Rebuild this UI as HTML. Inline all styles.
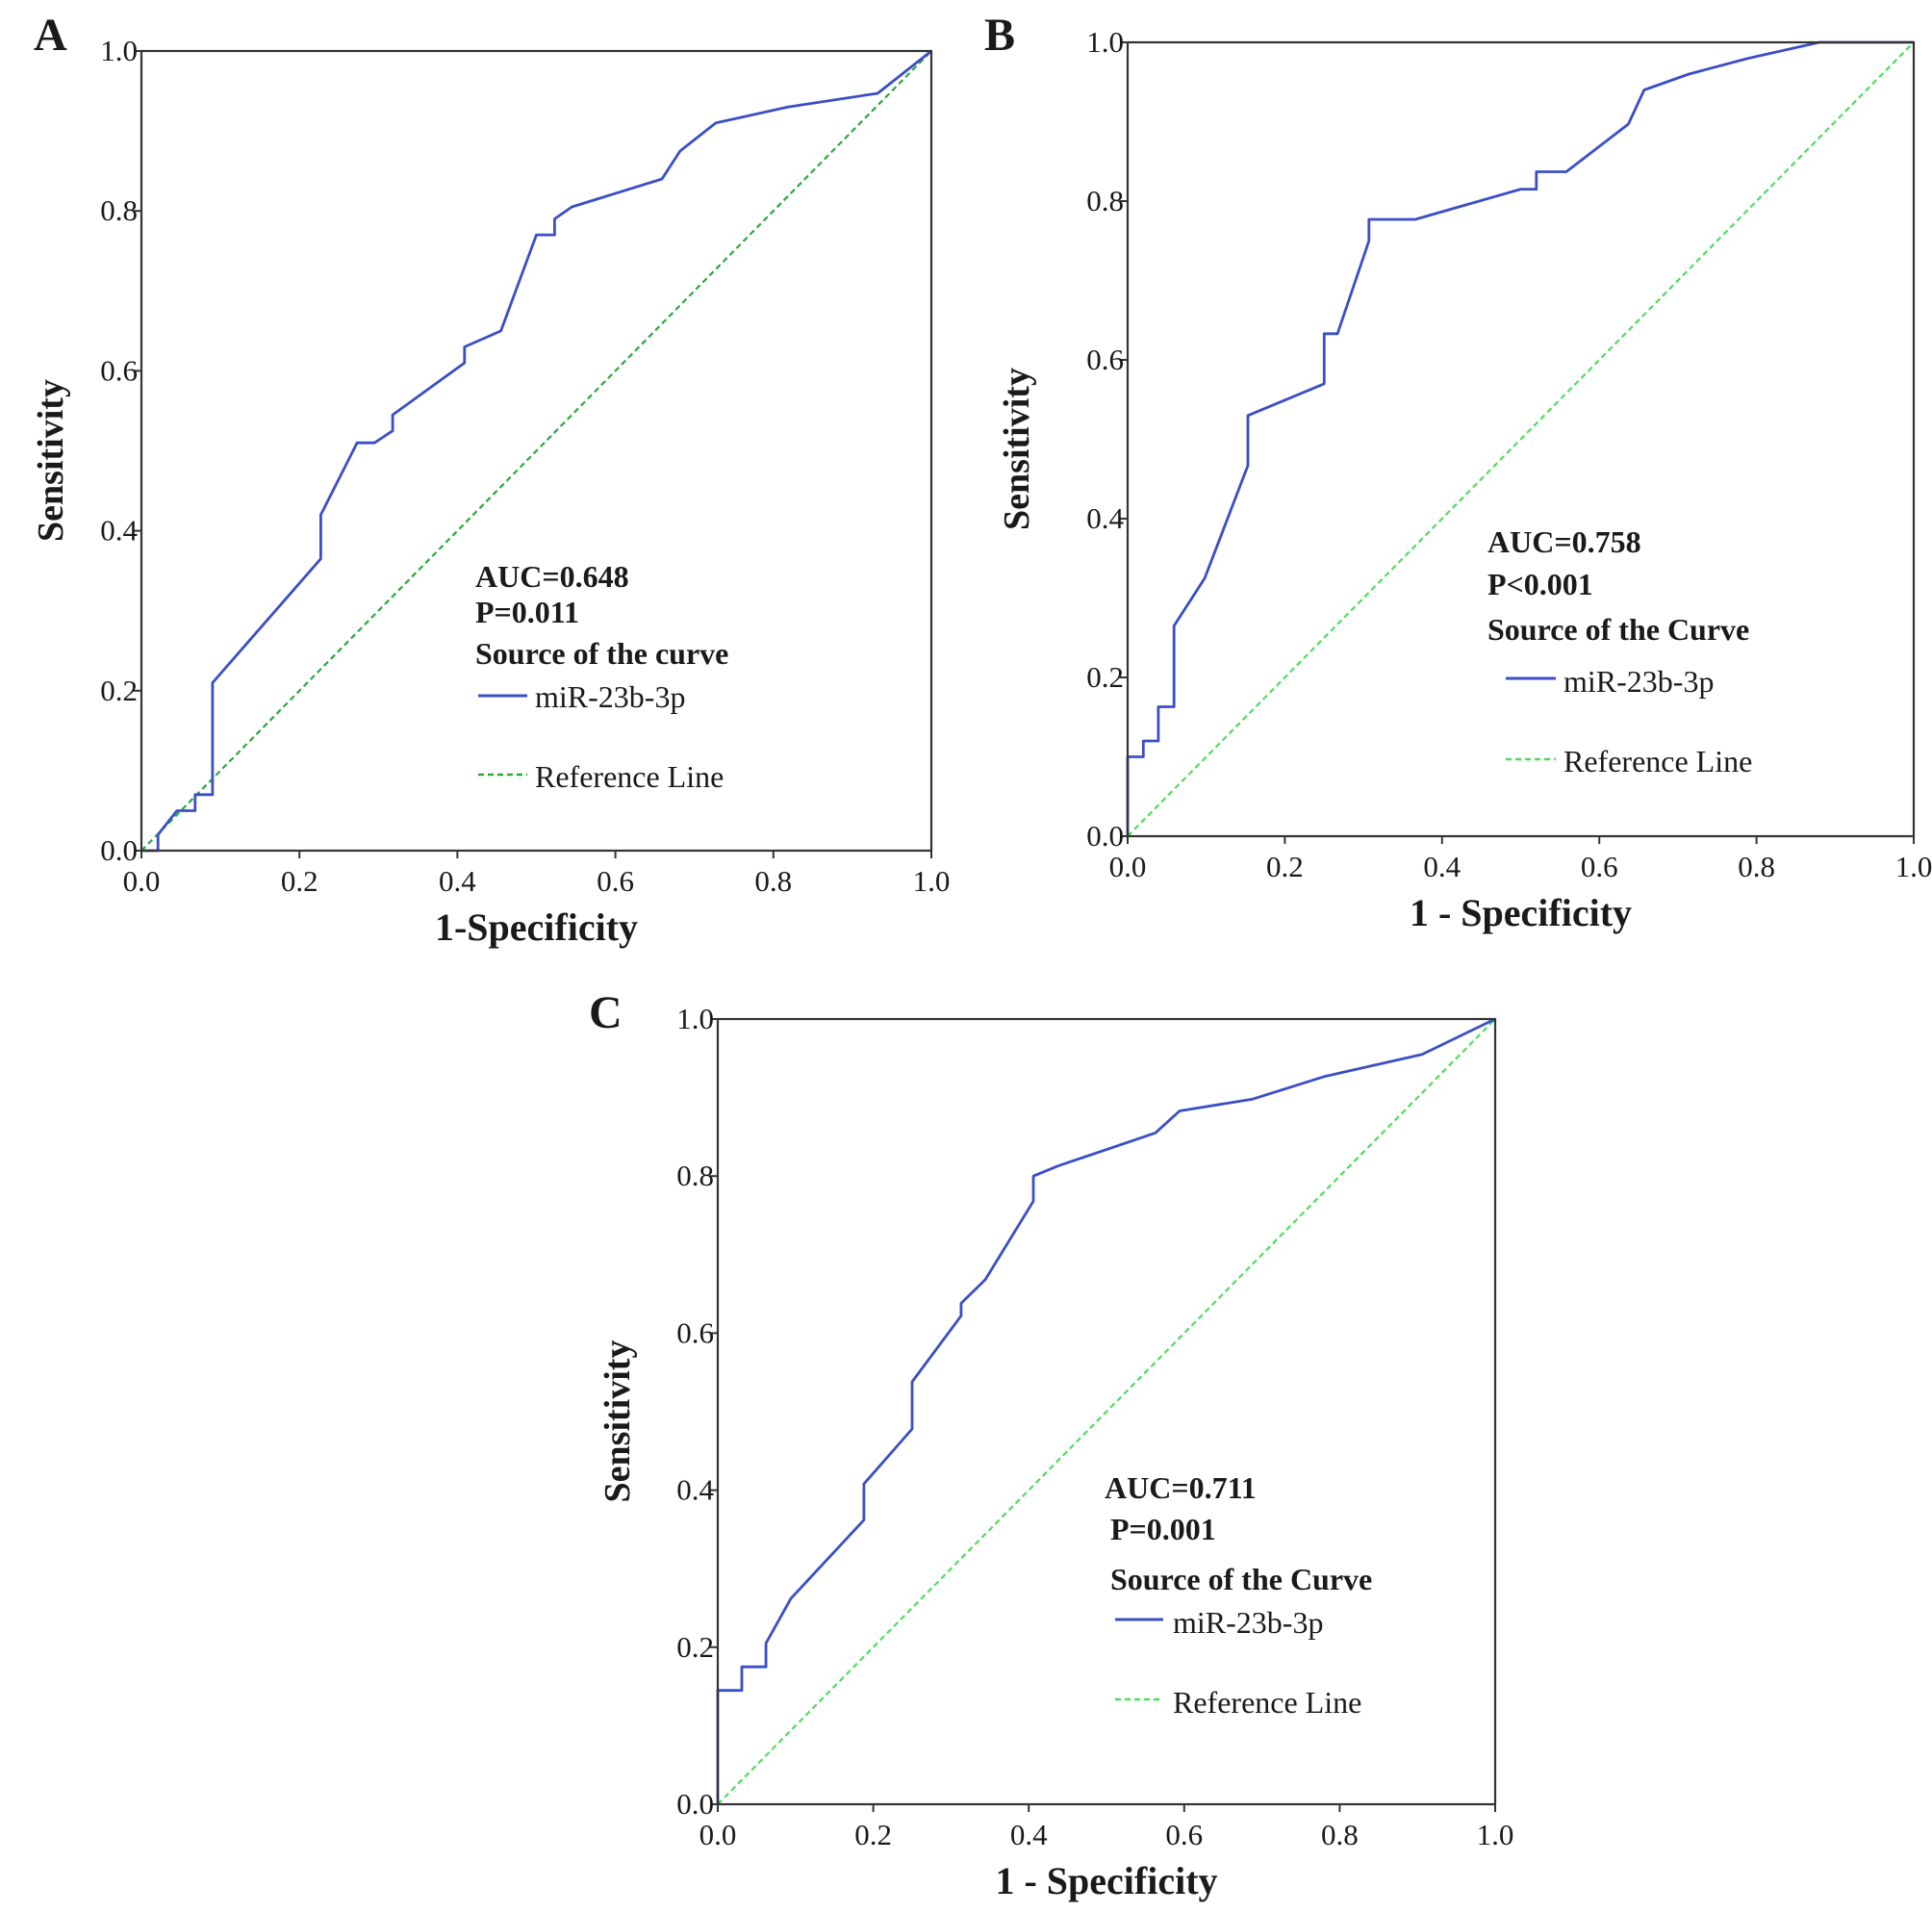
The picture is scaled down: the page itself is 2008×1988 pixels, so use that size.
<!DOCTYPE html>
<html><head><meta charset="utf-8"><style>
body{margin:0;background:#fff}
svg{display:block}
text{font-family:"Liberation Serif",serif;fill:#1a1a1a}
</style></head><body>
<svg id="fig" width="2008" height="1988" viewBox="0 0 2008 1988" xmlns="http://www.w3.org/2000/svg"></svg>
<script>
const ticks = [0, 0.2, 0.4, 0.6, 0.8, 1.0];
const tickLabels = ["0.0","0.2","0.4","0.6","0.8","1.0"];
const fprA = [0,0.021,0.021,0.045,0.068,0.068,0.09,0.09,0.227,0.227,0.273,0.295,0.318,0.318,0.409,0.409,0.455,0.5,0.523,0.523,0.545,0.659,0.682,0.727,0.818,0.932,1];
const tprA = [0,0,0.02,0.05,0.05,0.07,0.07,0.21,0.365,0.42,0.51,0.51,0.525,0.545,0.61,0.63,0.65,0.77,0.77,0.79,0.805,0.84,0.875,0.91,0.93,0.947,1];
const fprB = [0,0,0.02,0.02,0.039,0.039,0.059,0.059,0.098,0.153,0.153,0.25,0.25,0.267,0.307,0.307,0.366,0.5,0.52,0.52,0.558,0.637,0.657,0.714,0.79,0.88,1];
const tprB = [0,0.1,0.1,0.12,0.12,0.163,0.163,0.265,0.325,0.467,0.53,0.57,0.633,0.633,0.75,0.777,0.777,0.815,0.815,0.837,0.837,0.897,0.94,0.96,0.98,1,1];
const fprC = [0,0,0.031,0.031,0.062,0.062,0.094,0.188,0.188,0.25,0.25,0.313,0.313,0.344,0.406,0.406,0.438,0.563,0.594,0.688,0.781,0.906,1];
const tprC = [0,0.145,0.145,0.175,0.175,0.205,0.262,0.362,0.408,0.478,0.538,0.622,0.638,0.668,0.768,0.8,0.813,0.855,0.883,0.898,0.927,0.955,1];

const NS = "http://www.w3.org/2000/svg";
const svg = document.getElementById("fig");
function mk(tag, attrs, parent, txt){
  const e = document.createElementNS(NS, tag);
  for (const k in attrs) e.setAttribute(k, attrs[k]);
  if (txt !== undefined) e.textContent = txt;
  (parent || svg).appendChild(e);
  return e;
}

const panels = [
 {id:"a", letter:"A", L:147, R:968, T:53, B:884, fpr:fprA, tpr:tprA, green:"#2aa83c", xt:"1-Specificity",
  lx:35, ly:52, ytx:52,
  leg:{x:494, auc:"AUC=0.648", aucY:610, p:"P=0.011", px:494, pY:647, src:"Source of the curve", srcY:690, lx1:497, lx2:548, ly1:723, tx:556, t1:735, ly2:805, t2:818}},
 {id:"b", letter:"B", L:1172, R:1989, T:44, B:869, fpr:fprB, tpr:tprB, green:"#4fdc5c", xt:"1 - Specificity",
  lx:1023, ly:52, ytx:1056,
  leg:{x:1546, auc:"AUC=0.758", aucY:574, p:"P<0.001", px:1546, pY:618, src:"Source of the Curve", srcY:665, lx1:1565, lx2:1617, ly1:705, tx:1625, t1:719, ly2:789, t2:802}},
 {id:"c", letter:"C", L:746, R:1554, T:1059, B:1875, fpr:fprC, tpr:tprC, green:"#4fdc5c", xt:"1 - Specificity",
  lx:612, ly:1068, ytx:641,
  leg:{x:1148, auc:"AUC=0.711", aucY:1557, p:"P=0.001", px:1154, pY:1600, src:"Source of the Curve", srcY:1652, lx1:1159, lx2:1209, ly1:1683, tx:1219, t1:1697, ly2:1766, t2:1780}}
];

panels.forEach(p => {
  const g = mk("g", {});
  
  
  const sx = v => p.L + v * (p.R - p.L);
  const sy = v => p.B - v * (p.B - p.T);

  const lt = mk("text", {x:p.lx, y:p.ly, "font-size":48, "font-weight":"bold"}, g, p.letter);
  
  

  const ref = mk("line", {x1:sx(0), y1:sy(0), x2:sx(1), y2:sy(1), stroke:p.green, "stroke-width":2.2, "stroke-dasharray":"6,4"}, g);
  
  

  const pts = p.fpr.map((f, i) => sx(f).toFixed(1) + "," + sy(p.tpr[i]).toFixed(1)).join(" ");
  const curve = mk("polyline", {points:pts, fill:"none", stroke:"#3a4ec6", "stroke-width":2.8, "stroke-linejoin":"round"}, g);
  
  

  const fr = mk("rect", {x:p.L, y:p.T, width:p.R - p.L, height:p.B - p.T, fill:"none", stroke:"#333", "stroke-width":2.2}, g);
  
  

  ticks.forEach((t, i) => {
    const yt = mk("line", {x1:p.L - 8, x2:p.L, y1:sy(t), y2:sy(t), stroke:"#333", "stroke-width":2}, g);
    
    
    const yl = mk("text", {x:p.L - 4, y:sy(t) + 10, "font-size":31, "text-anchor":"end"}, g, tickLabels[i]);
    
    
    const xt = mk("line", {x1:sx(t), x2:sx(t), y1:p.B, y2:p.B + 8, stroke:"#333", "stroke-width":2}, g);
    
    
    const xl = mk("text", {x:sx(t), y:p.B + 42, "font-size":31, "text-anchor":"middle"}, g, tickLabels[i]);
    
    
  });

  const xtt = mk("text", {x:(p.L + p.R) / 2, y:p.B + 93, "font-size":40, "font-weight":"bold", "text-anchor":"middle"}, g, p.xt);
  
  
  const yc = (p.T + p.B) / 2 + 10;
  const ytt = mk("text", {x:p.ytx, y:yc, "font-size":38, "font-weight":"bold", "text-anchor":"middle", transform:"rotate(-90 " + p.ytx + " " + yc + ")", dy:"13"}, g, "Sensitivity");
  
  

  const L = p.leg;
  const a = mk("text", {x:L.x, y:L.aucY, "font-size":32, "font-weight":"bold"}, g, L.auc);
  
  
  const pv = mk("text", {x:L.px, y:L.pY, "font-size":32, "font-weight":"bold"}, g, L.p);
  
  
  const s = mk("text", {x:L.px, y:L.srcY, "font-size":32, "font-weight":"bold"}, g, L.src);
  
  
  const l1 = mk("line", {x1:L.lx1, x2:L.lx2, y1:L.ly1, y2:L.ly1, stroke:"#3a4ec6", "stroke-width":3}, g);
  
  
  const t1 = mk("text", {x:L.tx, y:L.t1, "font-size":32}, g, "miR-23b-3p");
  
  
  const l2 = mk("line", {x1:L.lx1, x2:L.lx2, y1:L.ly2, y2:L.ly2, stroke:p.green, "stroke-width":2.5, "stroke-dasharray":"6,4"}, g);
  
  
  const t2 = mk("text", {x:L.tx, y:L.t2, "font-size":32}, g, "Reference Line");
  
  
});
</script>
</body></html>
